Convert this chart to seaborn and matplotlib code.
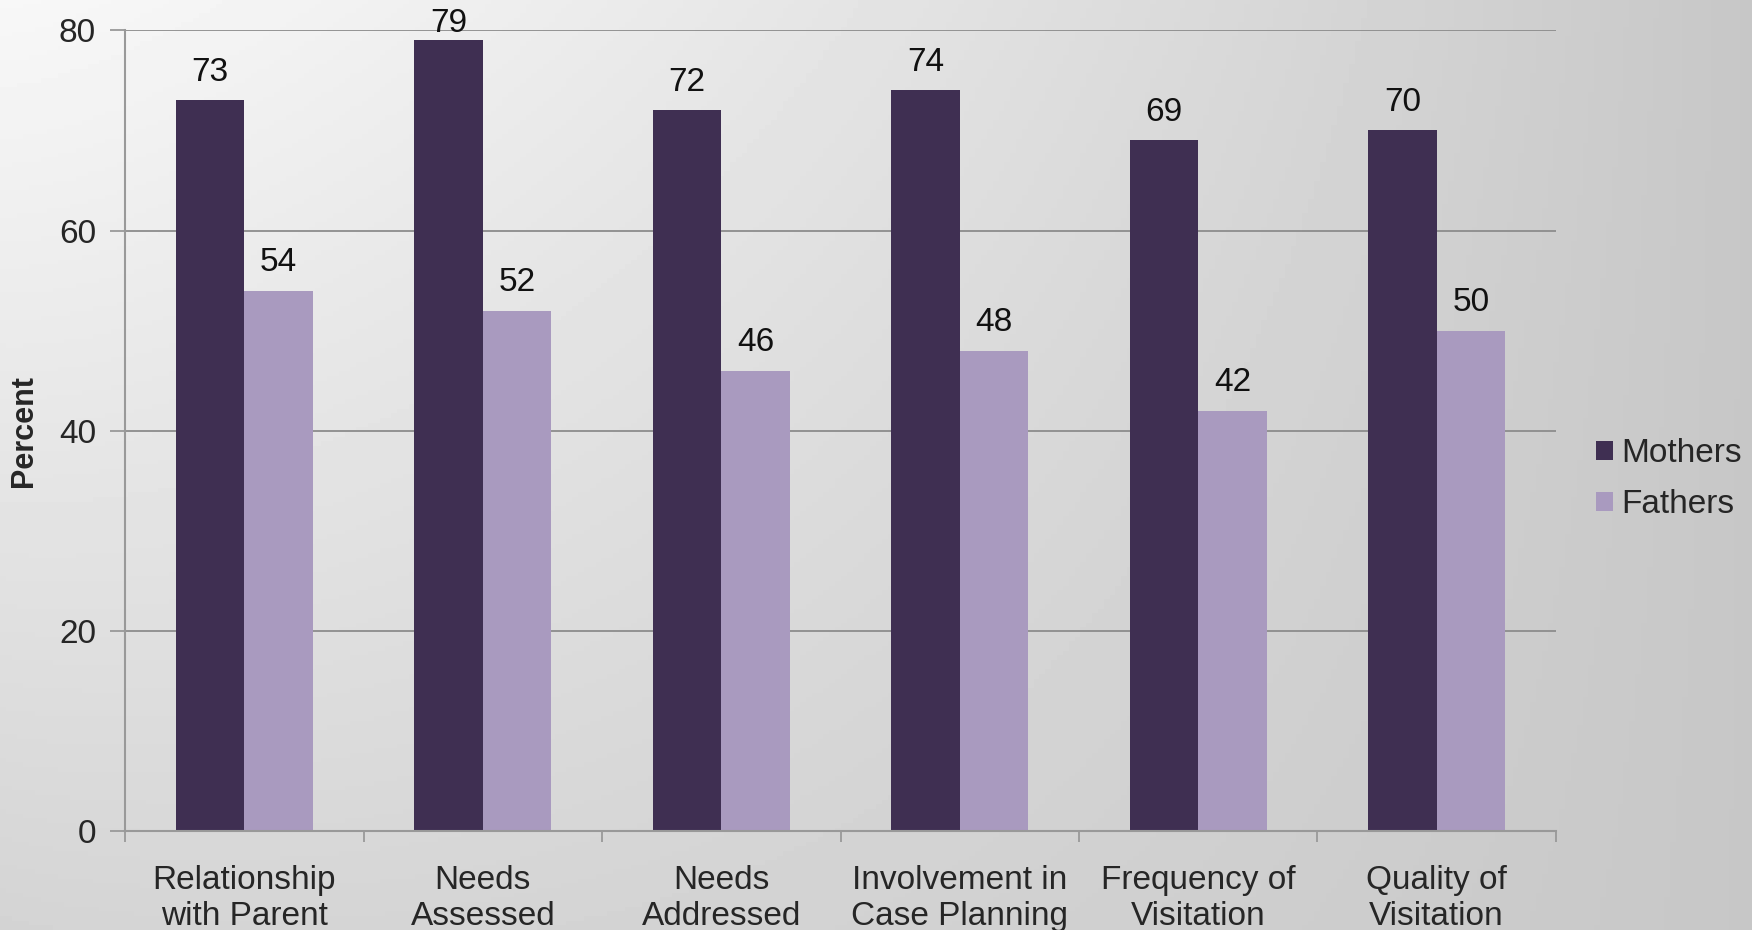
import numpy as np
import pandas as pd
import matplotlib
matplotlib.use("Agg")
import matplotlib.pyplot as plt
import seaborn as sns

# values
categories = ["Relationship\nwith Parent", "Needs\nAssessed", "Needs\nAddressed",
              "Involvement in\nCase Planning", "Frequency of\nVisitation", "Quality of\nVisitation"]
mothers = [73, 79, 72, 74, 69, 70]
fathers = [54, 52, 46, 48, 42, 50]
groups = ["Mothers", "Fathers"]
colors = ["#3f2f52", "#a99abf"]
y_ticks = [0, 20, 40, 60, 80]

df = pd.DataFrame({
    "category": categories * 2,
    "group": [groups[0]] * len(categories) + [groups[1]] * len(categories),
    "percent": mothers + fathers,
})

sns.set_theme(style="white")
plt.rcParams["font.family"] = ["Liberation Sans", "DejaVu Sans"]
plt.rcParams["font.size"] = 24

fig = plt.figure(figsize=(17.52, 9.30), dpi=100)

# gradient background (light top-left -> gray right)
bg = fig.add_axes([0, 0, 1, 1], zorder=-1)
gx, gy = np.meshgrid(np.linspace(0, 1, 300), np.linspace(0, 1, 200))
grad = np.clip(0.97 - 0.19 * gx ** 1.3 - 0.14 * gy * (1 - gx), 0, 1)
bg.imshow(grad, cmap="gray", vmin=0, vmax=1, aspect="auto", extent=[0, 1, 1, 0])
bg.axis("off")

ax = fig.add_axes([0.0715, 0.106, 0.8165, 0.8615])
ax.patch.set_alpha(0)

sns.barplot(data=df, x="category", y="percent", hue="group", palette=colors,
            width=0.575, saturation=1, linewidth=0, ax=ax, legend=True)

for cont in ax.containers:
    texts = ax.bar_label(cont, fmt="%d", padding=9, fontsize=24, color="#111111")
    # labels near the top edge sit closer to the bar, like in the original
    for bar, t in zip(cont, texts):
        if bar.get_height() > 77:
            t.xyann = (0, 1)

ax.set_ylim(0, 80)
ax.set_xlim(-0.5, len(categories) - 0.5)
ax.set_yticks(y_ticks)
ax.yaxis.grid(True, color="#8c8c8c", linewidth=1.3)
ax.set_axisbelow(True)
for s in ["top", "right"]:
    ax.spines[s].set_visible(False)
for s in ["left", "bottom"]:
    ax.spines[s].set_color("#999999")
    ax.spines[s].set_linewidth(1.5)

ax.set_xlabel("")
ax.set_ylabel("Percent", fontweight="bold", fontsize=22)
ax.yaxis.set_label_coords(-0.06, 0.5)
ax.tick_params(axis="y", length=11, width=1.3, color="#999999", pad=10, labelsize=24, left=True)
ax.tick_params(axis="x", which="major", length=0, pad=24.5, labelsize=24)
ax.set_xticks(np.arange(-0.5, len(categories)), minor=True)
ax.tick_params(axis="x", which="minor", length=8, width=1.3, color="#999999", bottom=True)
for lbl in ax.get_xticklabels():
    lbl.set_linespacing(1.2)

handles, labels = ax.get_legend_handles_labels()
ax.get_legend().remove()
fig.legend(handles, labels, loc="center left", bbox_to_anchor=(0.911, 0.485),
           frameon=False, fontsize=24, handlelength=0.5, handleheight=0.5,
           handletextpad=0.25, labelspacing=0.6, borderpad=0, borderaxespad=0)

fig.savefig("out.png", dpi=100)
